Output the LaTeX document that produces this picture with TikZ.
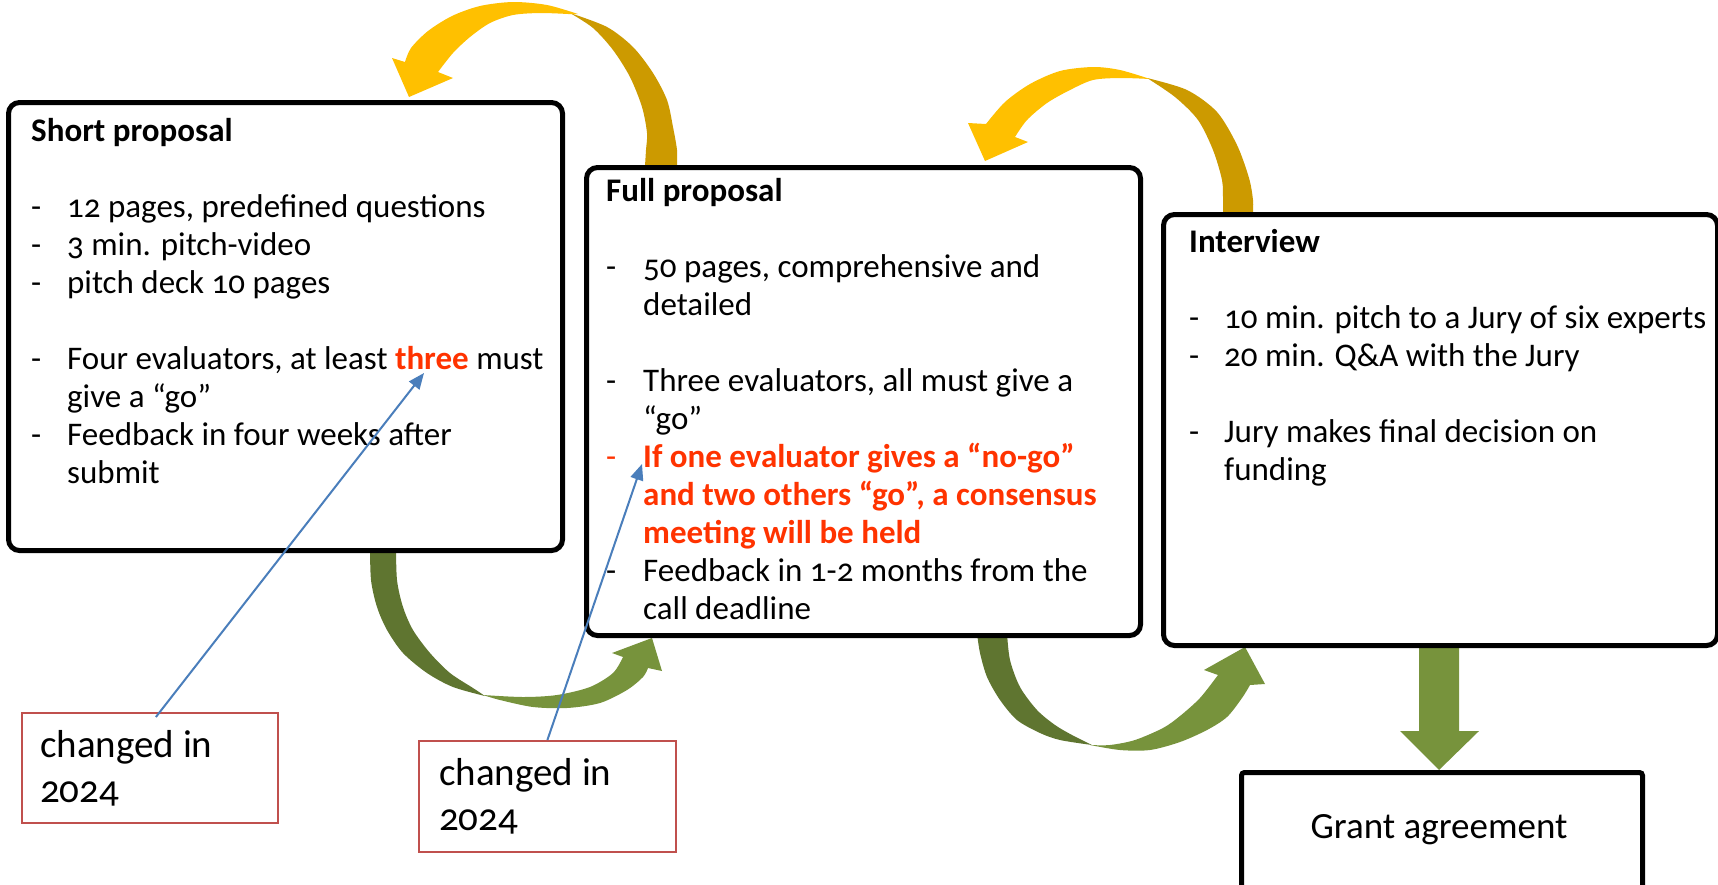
\documentclass[tikz,border=0pt]{standalone}
\usepackage{fontspec}
\setmainfont{Carlito}[Numbers=OldStyle]
\usetikzlibrary{arrows.meta}
\definecolor{ybright}{HTML}{FFC000}
\definecolor{ydark}{HTML}{CC9A00}
\definecolor{gbright}{HTML}{77933C}
\definecolor{gdark}{HTML}{5F7530}
\definecolor{noteblue}{HTML}{4A7EBB}
\definecolor{notered}{HTML}{C0504D}
\definecolor{hot}{HTML}{FF3300}
\tikzset{
  stagebox/.style={draw=black, line width=5pt, rounded corners=11pt, fill=white, inner sep=0pt, anchor=north west},
  txt/.style={inner sep=0pt, anchor=base west, font=\fontsize{33}{38}\selectfont},
  notebox/.style={draw=notered, line width=1.8pt, fill=white, inner sep=0pt, anchor=north west},
  notetxt/.style={inner sep=0pt, anchor=base west, font=\fontsize{39}{45}\selectfont},
  note/.style={draw=noteblue, line width=2pt, -{Triangle[length=16pt,width=13pt]}},
}
\begin{document}
\begin{tikzpicture}[x=1pt,y=-1pt]
\useasboundingbox (0,0) rectangle (1718,884);
\clip (0,0) rectangle (1718,884);

% yellow arrow 1 (full -> short)
\fill[ydark] plot[smooth] coordinates {(570,13) (607,27) (633,47) (653,73) (667,100) (673,127) (677,150) (677,166)}
  -- plot[smooth] coordinates {(645,166) (646,150) (647,133) (642,107) (630,77) (613,50) (593,28) (570,13)} -- cycle;
\fill[ybright] plot[smooth] coordinates {(578,14) (547,5) (513,2) (480,6) (452,16) (428,31) (411,48) (405,62)}
  -- (392,58) -- (409,97) -- (453,78) -- (438,72)
  -- plot[smooth] coordinates {(438,72) (453,53) (470,37) (490,23) (513,15) (540,13) (568,14)} -- cycle;

% yellow arrow 2 (interview -> full)
\fill[ydark] plot[smooth] coordinates {(1147,78) (1187,90) (1217,112) (1237,145) (1249,178) (1253,200) (1253,214)}
  -- plot[smooth] coordinates {(1223,214) (1223,200) (1222,180) (1213,150) (1198,120) (1175,97) (1147,78)} -- cycle;
\fill[ybright] plot[smooth] coordinates {(1150,79) (1120,70) (1093,67) (1060,71) (1030,84) (1005,102) (986,124)}
  -- (968,123) -- (985,161) -- (1028,142) -- (1015,137)
  -- plot[smooth] coordinates {(1015,137) (1027,120) (1047,103) (1070,90) (1093,80) (1120,78) (1150,79)} -- cycle;

% green arrow 1 (short -> full)
\fill[gdark] plot[smooth] coordinates {(370,545) (371,580) (377,607) (387,630) (403,653) (427,673) (453,687) (485,696)}
  -- plot[smooth] coordinates {(485,696) (473,688) (450,673) (430,653) (413,630) (403,607) (397,580) (396,545)} -- cycle;
\fill[gbright] plot[smooth] coordinates {(483,695) (500,700) (533,707) (567,708) (600,703) (627,690) (643,677) (648,668)}
  -- (662,671) -- (652,638) -- (612,653) -- (623,657)
  -- plot[smooth] coordinates {(623,657) (613,673) (590,687) (557,695) (523,697) (483,695)} -- cycle;

% green arrow 2 (full -> interview)
\fill[gdark] plot[smooth] coordinates {(977,633) (980,653) (987,677) (1000,700) (1017,720) (1040,733) (1060,740) (1092,745)}
  -- plot[smooth] coordinates {(1092,745) (1072,735) (1055,725) (1037,710) (1020,687) (1010,660) (1007,633)} -- cycle;
\fill[gbright] plot[smooth] coordinates {(1090,745) (1120,750) (1150,750) (1180,742) (1207,730) (1227,717) (1242,698) (1250,685)}
  -- (1265,684) -- (1245,647) -- (1204,670) -- (1218,675)
  -- plot[smooth] coordinates {(1218,675) (1200,698) (1180,716) (1163,728) (1135,740) (1110,745) (1090,745)} -- cycle;

% green down arrow (interview -> grant)
\fill[gbright] (1419,640) -- (1459,640) -- (1459,731) -- (1479,731) -- (1439,770) -- (1400,731) -- (1419,731) -- cycle;

% stage boxes
\node[stagebox, minimum width=554pt, minimum height=448pt] (short) at (6,100) {};
\node[stagebox, minimum width=554pt, minimum height=468pt] (full) at (584,165) {};
\node[stagebox, minimum width=554pt, minimum height=431pt] (interview) at (1161,212) {};
\node[stagebox, rounded corners=3pt, minimum width=401pt, minimum height=140pt] (grant) at (1239,770) {};

\node[txt] (shorttxt) at (31,141) {\begin{tabular}[t]{@{}p{36pt}@{}l@{}}
\multicolumn{2}{@{}l@{}}{\bfseries Short proposal}\\
\\
-&12 pages, predefined questions\\
-&3 min. pitch-video\\
-&pitch deck 10 pages\\
\\
-&Four evaluators, at least \textcolor{hot}{\bfseries three} must\\
&give a “go”\\
-&Feedback in four weeks after\\
&submit
\end{tabular}};

\node[txt] (fulltxt) at (606,201) {\begin{tabular}[t]{@{}p{37pt}@{}l@{}}
\multicolumn{2}{@{}l@{}}{\bfseries Full proposal}\\
\\
-&50 pages, comprehensive and\\
&detailed\\
\\
-&Three evaluators, all must give a\\
&“go”\\
\textcolor{hot}{-}&\textcolor{hot}{\bfseries If one evaluator gives a “no-go”}\\
&\textcolor{hot}{\bfseries and two others “go”, a consensus}\\
&\textcolor{hot}{\bfseries meeting will be held}\\
-&Feedback in 1-2 months from the\\
&call deadline
\end{tabular}};

\node[txt] (interviewtxt) at (1189,252) {\begin{tabular}[t]{@{}p{35pt}@{}l@{}}
\multicolumn{2}{@{}l@{}}{\bfseries Interview}\\
\\
-&10 min. pitch to a Jury of six experts\\
-&20 min. Q\&A with the Jury\\
\\
-&Jury makes final decision on\\
&funding
\end{tabular}};

\node[inner sep=0pt, anchor=base, font=\fontsize{37}{45}\selectfont] (granttxt) at (1439,838) {Grant agreement};

% notes
\node[notebox, minimum width=256pt, minimum height=110pt] (chg1) at (21,712) {};
\node[notetxt] (chg1txt) at (40,757) {\begin{tabular}[t]{@{}l@{}}changed in\\2024\end{tabular}};
\node[notebox, minimum width=257pt, minimum height=111pt] (chg2) at (418,740) {};
\node[notetxt] (chg2txt) at (439,785) {\begin{tabular}[t]{@{}l@{}}changed in\\2024\end{tabular}};

\coordinate (three) at (424,373);
\coordinate (ifone) at (642,464);
\draw[note] ([xshift=6pt,yshift=-5pt]chg1.north) -- (three);
\draw[note] (chg2.north) -- (ifone);
\end{tikzpicture}
\end{document}
